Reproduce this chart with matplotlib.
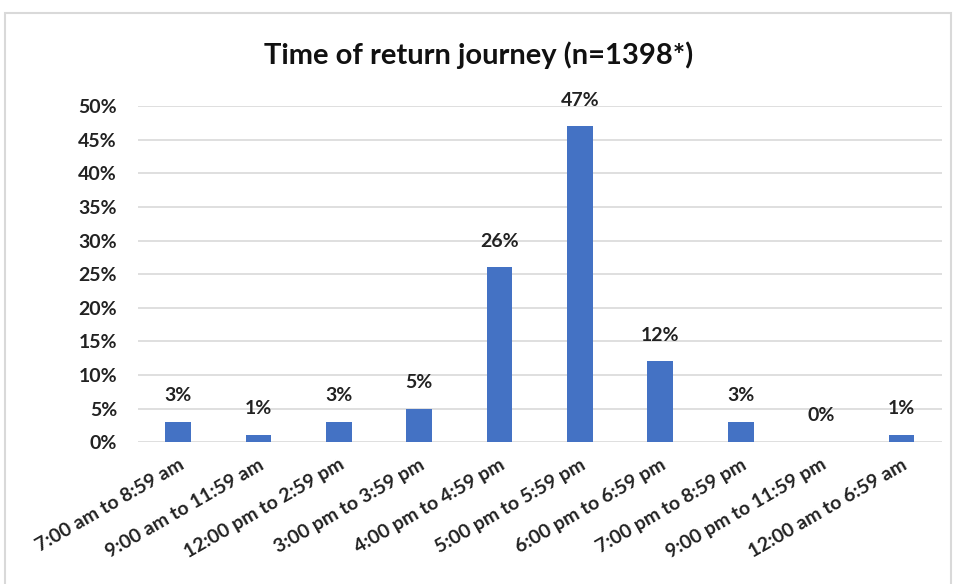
import matplotlib.pyplot as plt
import matplotlib.patches as mpatches
from matplotlib.ticker import PercentFormatter

categories = ["7:00 am to 8:59 am", "9:00 am to 11:59 am", "12:00 pm to 2:59 pm",
              "3:00 pm to 3:59 pm", "4:00 pm to 4:59 pm", "5:00 pm to 5:59 pm",
              "6:00 pm to 6:59 pm", "7:00 pm to 8:59 pm", "9:00 pm to 11:59 pm",
              "12:00 am to 6:59 am"]
shares = [3, 1, 3, 5, 26, 47, 12, 3, 0, 1]
yticks = [0, 5, 10, 15, 20, 25, 30, 35, 40, 45, 50]

plt.rcParams['font.family'] = ['Lato', 'DejaVu Sans']
plt.rcParams['font.weight'] = 'bold'

fig = plt.figure(figsize=(9.57, 5.84), dpi=100)
ax = fig.add_axes([0.144, 0.243, 0.840, 0.575])

# chart border
fig.patches.append(mpatches.Rectangle((5/957, -0.01), 946/957, 1 - 13/584 + 0.01,
                                      transform=fig.transFigure, fill=False,
                                      edgecolor='#d9d9d9', linewidth=1.5))

x = range(len(categories))
ax.bar(x, shares, width=0.32, color='#4472C4', zorder=3)
for xi, v in zip(x, shares):
    ax.annotate(f"{v}%", (xi, v), xytext=(0, 19), textcoords='offset points',
                ha='center', va='center', fontsize=14, fontweight='bold',
                color='#222222', annotation_clip=False)

ax.set_ylim(0, 50)
ax.set_xlim(-0.5, len(categories) - 0.5)
ax.set_yticks(yticks)
ax.yaxis.set_major_formatter(PercentFormatter(decimals=0))
ax.grid(axis='y', color='#d9d9d9', linewidth=1.2, zorder=0)
for s in ax.spines.values():
    s.set_visible(False)
ax.tick_params(axis='both', length=0, labelsize=14, colors='#222222')
ax.tick_params(axis='y', pad=15)
ax.tick_params(axis='x', pad=10)
ax.set_xticks(list(x))
ax.set_xticklabels(categories, rotation=30, ha='right', rotation_mode='anchor',
                   fontsize=14, fontweight='bold')
for lab in ax.get_yticklabels():
    lab.set_fontweight('bold')

fig.text(0.5, 1 - 55/584, "Time of return journey (n=1398*)", ha='center',
         va='center', fontsize=21, fontweight='bold', color='#111111')

fig.savefig("out.png", dpi=100)
